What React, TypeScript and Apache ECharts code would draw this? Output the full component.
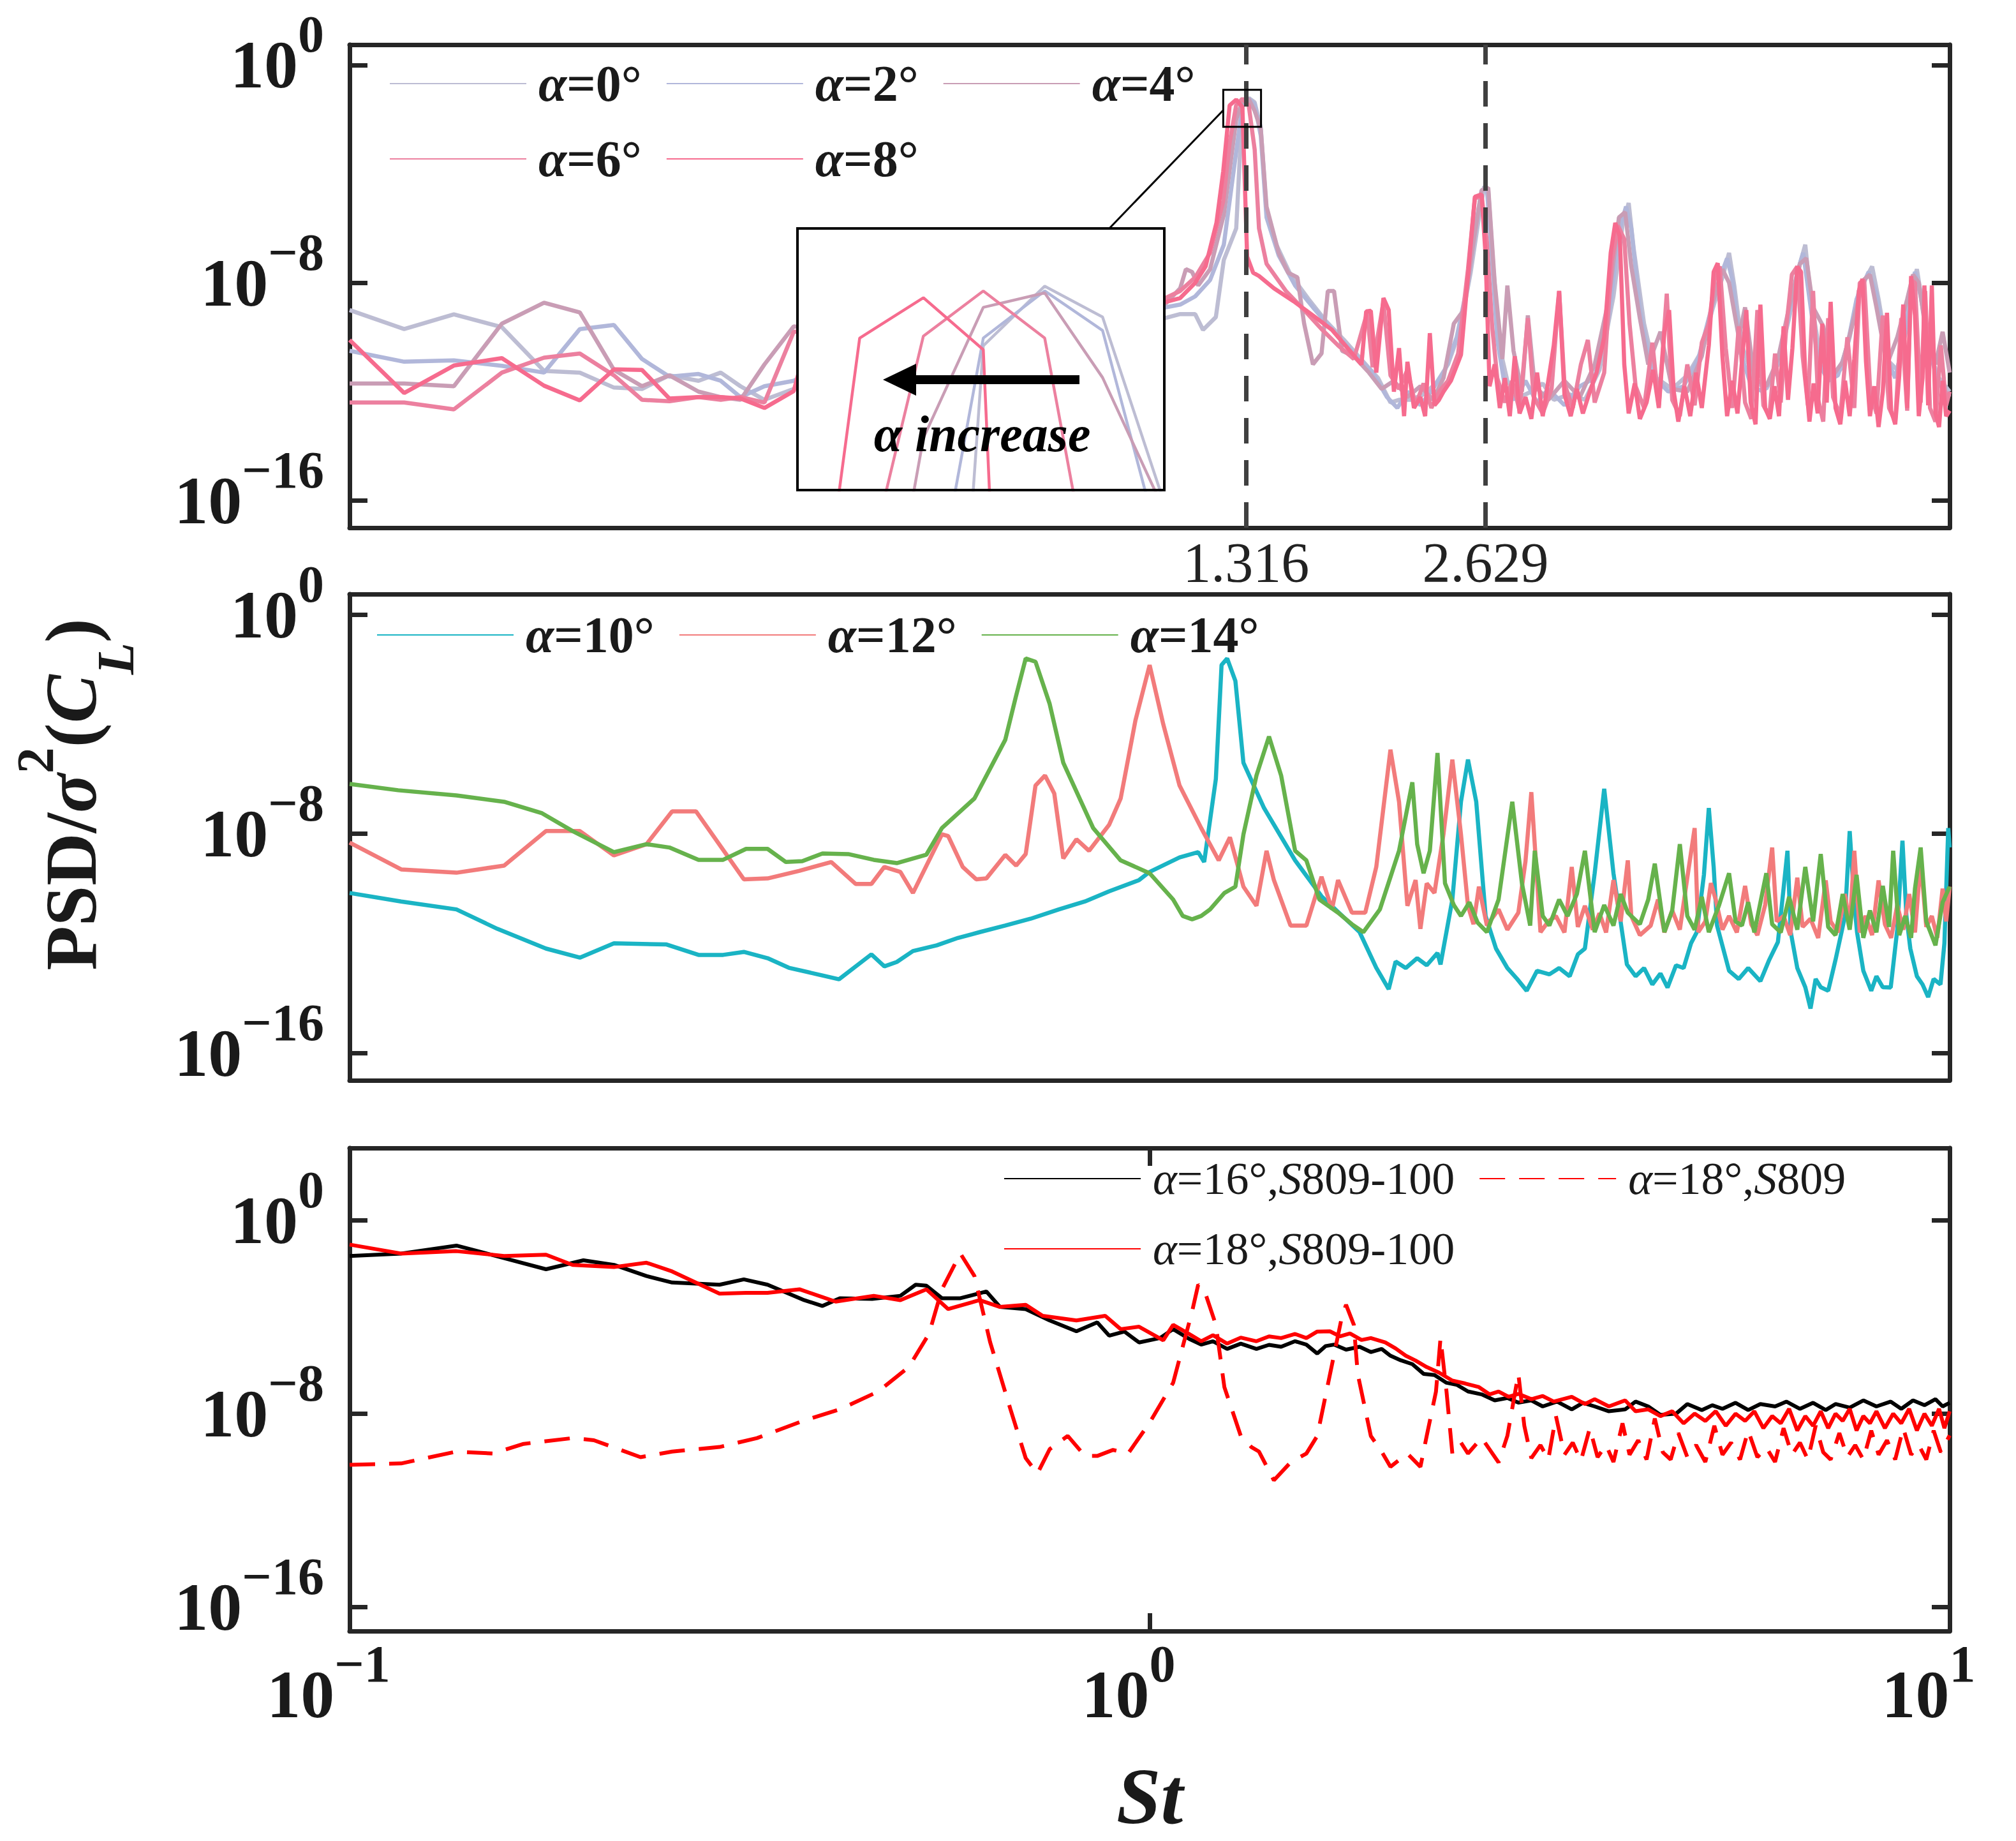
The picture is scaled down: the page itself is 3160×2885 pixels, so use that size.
import * as echarts from 'echarts';
import { useEffect, useRef } from 'react';

type Pt = [number, number]; // [St, log10(PSD / sigma^2(CL))]

const SERIF = '"Liberation Serif", "DejaVu Serif", serif';
const INK = '#1a1a1a';
const AXIS_COLOR = '#262626';

// ---------- panel 1 : alpha = 0..8 deg ----------
const P1_A0: Pt[] = [
  [0.1, -9.0], [0.117, -9.7], [0.135, -9.16], [0.155, -9.63], [0.175, -11.24], [0.194, -11.3], [0.214, -11.85],
  [0.232, -11.9], [0.251, -11.4], [0.273, -11.6], [0.291, -11.3], [0.308, -11.8], [0.33, -12.3], [0.359, -11.9],
  [0.45, -10.5], [0.6, -9.8], [0.8, -9.6], [0.95, -9.4],
  [1.048, -9.29], [1.092, -9.15], [1.14, -9.15], [1.166, -9.73], [1.21, -9.26], [1.238, -7.16], [1.283, -6.0],
  [1.306, -1.52], [1.33, -1.21], [1.353, -1.37], [1.377, -2.3], [1.4, -5.4], [1.44, -6.6], [1.5, -7.7], [1.58, -8.6],
  [1.66, -9.4], [1.75, -10.1], [1.85, -10.9], [1.93, -11.5], [2.0, -12.4], [2.05, -12.3], [2.12, -12.3], [2.2, -12.1],
  [2.28, -11.7], [2.36, -11.0], [2.44, -9.8], [2.52, -7.6], [2.58, -5.6], [2.62, -4.45], [2.65, -4.6], [2.69, -7.5],
  [2.74, -10.4], [2.8, -11.6], [2.9, -12.2], [3.0, -12.0], [3.1, -11.7], [3.2, -12.3], [3.35, -12.1], [3.5, -12.3],
  [3.65, -11.2], [3.8, -8.5], [3.9, -5.9], [3.97, -5.07], [4.03, -6.8], [4.15, -9.5], [4.3, -11.5], [4.5, -11.9],
  [4.7, -11.4], [4.9, -10.5], [5.05, -9.0], [5.2, -7.8], [5.3, -6.9], [5.38, -8.1], [5.5, -10.3], [5.7, -11.6],
  [5.9, -11.9], [6.1, -11.0], [6.3, -9.3], [6.5, -7.3], [6.6, -6.6], [6.7, -8.5], [6.9, -10.8], [7.1, -11.5],
  [7.3, -11.2], [7.5, -10.0], [7.7, -8.3], [8.0, -7.4], [8.15, -8.6], [8.4, -10.9], [8.6, -11.2], [8.8, -9.9],
  [9.0, -8.0], [9.1, -7.5], [9.25, -8.8], [9.5, -10.8], [9.7, -11.5], [10, -12.0],
];
const P1_A2: Pt[] = [
  [0.1, -10.5], [0.117, -10.9], [0.135, -10.85], [0.155, -11.05], [0.175, -11.3], [0.194, -9.7], [0.214, -9.55],
  [0.232, -10.8], [0.251, -11.45], [0.273, -11.35], [0.291, -11.6], [0.308, -12.2], [0.33, -11.8], [0.359, -11.6],
  [0.45, -10.2], [0.6, -9.9], [0.8, -9.7], [0.95, -9.3],
  [1.048, -8.9], [1.092, -8.8], [1.14, -8.5], [1.19, -7.9], [1.238, -6.6], [1.283, -3.18], [1.306, -1.48],
  [1.33, -1.235], [1.353, -1.44], [1.377, -2.6], [1.4, -5.6], [1.45, -7.0], [1.52, -8.1], [1.6, -8.9], [1.7, -9.8],
  [1.8, -10.6], [1.9, -11.3], [1.98, -12.2], [2.04, -12.6], [2.1, -12.0], [2.18, -12.5], [2.26, -11.9], [2.34, -11.2],
  [2.42, -10.0], [2.5, -8.0], [2.56, -5.8], [2.6, -4.6], [2.64, -4.55], [2.68, -7.2], [2.72, -10.1], [2.78, -11.8],
  [2.86, -12.3], [2.95, -11.6], [3.05, -12.4], [3.15, -11.9], [3.3, -12.5], [3.45, -11.8], [3.6, -11.5], [3.75, -9.2],
  [3.87, -6.0], [3.94, -5.2], [4.0, -6.0], [4.1, -9.0], [4.25, -11.4], [4.45, -12.0], [4.65, -11.8], [4.85, -10.8],
  [5.0, -9.3], [5.15, -7.9], [5.27, -7.1], [5.36, -8.0], [5.48, -10.6], [5.65, -11.8], [5.85, -12.0], [6.05, -11.3],
  [6.25, -9.6], [6.45, -7.6], [6.56, -6.9], [6.66, -8.3], [6.85, -10.9], [7.05, -11.6], [7.25, -11.4], [7.45, -10.3],
  [7.65, -8.6], [7.92, -7.6], [8.1, -8.4], [8.35, -10.8], [8.55, -11.5], [8.75, -10.2], [8.95, -8.3], [9.05, -7.6],
  [9.2, -8.5], [9.45, -10.5], [9.65, -11.6], [10, -12.2],
];
const P1_A4: Pt[] = [
  [0.1, -11.7], [0.117, -11.7], [0.135, -11.8], [0.155, -9.5], [0.175, -8.73], [0.194, -9.09], [0.214, -11.2],
  [0.232, -11.8], [0.251, -11.4], [0.273, -12.0], [0.291, -12.2], [0.308, -12.3], [0.33, -11.0], [0.359, -9.6],
  [0.45, -10.0], [0.6, -10.3], [0.8, -9.8], [0.95, -9.2],
  [1.048, -8.75], [1.092, -8.2], [1.11, -7.5], [1.13, -7.6], [1.15, -8.1], [1.19, -7.5], [1.238, -5.5], [1.283, -2.0],
  [1.306, -1.32], [1.33, -1.245], [1.353, -1.685], [1.377, -2.35], [1.4, -5.2], [1.45, -6.9], [1.49, -7.63],
  [1.53, -7.8], [1.56, -9.5], [1.6, -11.0], [1.64, -10.6], [1.67, -8.3], [1.7, -8.3], [1.74, -10.5], [1.8, -10.7],
  [1.88, -11.3], [1.95, -11.9], [2.02, -11.6], [2.1, -12.2], [2.18, -11.8], [2.26, -12.3], [2.33, -11.5], [2.4, -9.5],
  [2.47, -9.0], [2.54, -6.5], [2.6, -4.6], [2.65, -4.5], [2.7, -8.0], [2.76, -10.8], [2.8, -8.1], [2.85, -10.5],
  [2.92, -12.0], [2.97, -9.2], [3.03, -11.8], [3.15, -12.3], [3.3, -11.6], [3.45, -12.2], [3.6, -11.0], [3.75, -8.6],
  [3.86, -5.6], [3.93, -5.4], [4.0, -7.4], [4.1, -9.3], [4.2, -11.0], [4.35, -9.8], [4.5, -11.9], [4.7, -12.0],
  [4.9, -10.7], [5.05, -8.8], [5.2, -7.5], [5.3, -8.0], [5.45, -10.0], [5.55, -8.9], [5.7, -11.5], [5.9, -11.8],
  [6.1, -10.8], [6.3, -8.9], [6.5, -7.3], [6.62, -7.1], [6.75, -8.9], [6.95, -9.6], [7.15, -11.4], [7.35, -10.9],
  [7.55, -9.6], [7.8, -7.9], [7.95, -7.7], [8.1, -8.9], [8.35, -11.0], [8.6, -10.0], [8.85, -8.6], [9.0, -7.7],
  [9.15, -8.0], [9.35, -9.9], [9.6, -11.0], [9.8, -9.8], [10, -11.3],
];
const P1_A6: Pt[] = [
  [0.1, -12.4], [0.117, -12.4], [0.135, -12.65], [0.155, -11.3], [0.175, -10.75], [0.194, -10.6], [0.214, -11.4],
  [0.232, -12.3], [0.251, -12.35], [0.273, -12.2], [0.291, -12.3], [0.308, -12.2], [0.33, -12.4], [0.359, -9.8],
  [0.45, -9.6], [0.6, -10.0], [0.8, -9.8], [0.95, -9.0],
  [1.048, -8.55], [1.092, -8.3], [1.14, -7.8], [1.19, -6.9], [1.236, -5.0], [1.259, -2.85], [1.283, -1.47],
  [1.306, -1.235], [1.33, -1.48], [1.353, -3.1], [1.37, -6.0], [1.4, -7.3], [1.48, -8.3], [1.56, -9.0], [1.64, -9.7],
  [1.72, -10.3], [1.8, -10.8], [1.87, -9.1], [1.9, -11.1], [1.96, -8.7], [2.0, -11.4], [2.05, -11.9], [2.1, -11.2],
  [2.15, -12.5], [2.2, -11.7], [2.25, -12.6], [2.3, -12.0], [2.36, -11.6], [2.43, -10.6], [2.5, -7.5], [2.55, -4.9],
  [2.6, -4.8], [2.64, -6.5], [2.68, -9.6], [2.72, -11.5], [2.78, -12.4], [2.84, -11.6], [2.9, -12.7], [2.97, -9.3],
  [3.02, -12.2], [3.1, -12.8], [3.18, -11.9], [3.25, -8.3], [3.3, -11.7], [3.38, -12.6], [3.46, -11.0], [3.53, -10.1],
  [3.6, -12.4], [3.7, -11.3], [3.78, -7.2], [3.85, -5.9], [3.92, -6.4], [3.98, -9.5], [4.05, -11.8], [4.15, -12.6],
  [4.25, -10.2], [4.33, -12.5], [4.43, -8.4], [4.5, -12.3], [4.6, -12.9], [4.7, -11.0], [4.8, -12.5], [4.9, -10.2],
  [5.0, -9.5], [5.1, -7.6], [5.16, -7.4], [5.25, -10.4], [5.35, -12.6], [5.45, -9.6], [5.55, -12.4], [5.65, -13.0],
  [5.75, -9.0], [5.85, -12.5], [5.95, -12.9], [6.05, -10.6], [6.15, -12.4], [6.25, -9.6], [6.35, -7.7], [6.45, -7.4],
  [6.55, -10.7], [6.65, -12.5], [6.75, -8.3], [6.85, -12.3], [6.95, -13.1], [7.05, -9.3], [7.15, -12.2], [7.3, -12.9],
  [7.45, -10.0], [7.6, -12.6], [7.72, -8.0], [7.82, -7.9], [7.95, -11.8], [8.1, -12.8], [8.25, -9.2], [8.4, -12.6],
  [8.55, -13.1], [8.7, -9.3], [8.85, -12.7], [8.95, -7.9], [9.05, -8.0], [9.2, -12.4], [9.32, -8.3], [9.45, -12.6],
  [9.6, -13.1], [9.75, -10.3], [9.9, -12.5], [10, -12.0],
];
const P1_A8: Pt[] = [
  [0.1, -10.1], [0.117, -12.05], [0.135, -11.04], [0.155, -10.77], [0.175, -11.78], [0.194, -12.32], [0.214, -11.18],
  [0.232, -11.2], [0.251, -12.25], [0.273, -12.2], [0.291, -12.2], [0.308, -12.25], [0.33, -12.6], [0.359, -11.98],
  [0.38, -9.3], [0.45, -9.8], [0.6, -10.1], [0.8, -9.9], [0.95, -9.1],
  [1.048, -8.7], [1.092, -8.56], [1.14, -8.0], [1.175, -7.39], [1.212, -5.8], [1.236, -3.9], [1.259, -1.48],
  [1.283, -1.27], [1.306, -1.54], [1.324, -7.04], [1.347, -7.63], [1.37, -7.75], [1.43, -8.2], [1.514, -8.68],
  [1.6, -9.2], [1.69, -9.73], [1.78, -10.5], [1.84, -11.0], [1.865, -9.05], [1.89, -9.03], [1.92, -11.3], [1.96, -8.56],
  [1.99, -9.0], [2.02, -12.0], [2.05, -10.4], [2.08, -12.9], [2.1, -10.9], [2.14, -12.6], [2.18, -12.2], [2.21, -12.9],
  [2.24, -9.85], [2.27, -12.5], [2.3, -12.3], [2.33, -12.0], [2.38, -11.6], [2.45, -10.65], [2.51, -7.16],
  [2.55, -4.84], [2.6, -4.75], [2.63, -7.0], [2.66, -11.8], [2.7, -11.0], [2.74, -12.6], [2.78, -11.5], [2.82, -12.9],
  [2.86, -10.7], [2.9, -12.8], [2.95, -12.2], [3.0, -13.0], [3.05, -11.3], [3.1, -12.9], [3.15, -11.6], [3.2, -10.3],
  [3.25, -8.3], [3.3, -12.1], [3.36, -12.9], [3.42, -11.9], [3.48, -12.8], [3.55, -12.0], [3.62, -11.3], [3.7, -10.0],
  [3.77, -6.9], [3.82, -5.8], [3.87, -6.3], [3.92, -11.0], [3.97, -12.8], [4.04, -11.7], [4.1, -13.0], [4.18, -12.4],
  [4.26, -11.2], [4.33, -12.6], [4.4, -9.8], [4.46, -9.0], [4.52, -12.0], [4.58, -13.1], [4.66, -11.8], [4.74, -12.9],
  [4.82, -11.3], [4.9, -12.6], [5.0, -10.3], [5.07, -7.6], [5.13, -7.28], [5.2, -10.7], [5.27, -12.9], [5.35, -11.6],
  [5.43, -12.8], [5.5, -10.9], [5.57, -9.0], [5.64, -12.4], [5.72, -13.2], [5.8, -8.8], [5.88, -12.6], [5.96, -13.0],
  [6.04, -11.8], [6.12, -12.9], [6.2, -9.6], [6.28, -12.3], [6.36, -10.4], [6.45, -7.4], [6.52, -7.6], [6.6, -11.4],
  [6.68, -13.1], [6.76, -11.7], [6.84, -12.8], [6.93, -9.5], [7.02, -12.4], [7.1, -8.7], [7.2, -12.6], [7.3, -13.2],
  [7.4, -11.6], [7.5, -12.9], [7.6, -10.8], [7.7, -8.3], [7.78, -7.86], [7.86, -10.9], [7.95, -12.9], [8.05, -11.8],
  [8.15, -13.3], [8.25, -12.0], [8.35, -9.1], [8.45, -12.7], [8.55, -13.2], [8.65, -11.4], [8.75, -8.8], [8.85, -12.6],
  [8.95, -7.75], [9.05, -9.2], [9.15, -12.9], [9.25, -11.5], [9.3, -8.1], [9.4, -12.5], [9.5, -8.1], [9.6, -12.8],
  [9.7, -13.3], [9.8, -11.6], [9.9, -12.9], [10, -12.7],
];

// ---------- panel 2 : alpha = 10, 12, 14 deg ----------
const P2_A10: Pt[] = [
  [0.1, -10.16], [0.116, -10.47], [0.136, -10.76], [0.153, -11.47], [0.176, -12.19], [0.194, -12.52], [0.214, -12.0],
  [0.249, -12.04], [0.273, -12.42], [0.293, -12.42], [0.311, -12.31], [0.333, -12.54], [0.354, -12.89], [0.409, -13.31],
  [0.449, -12.4], [0.466, -12.84], [0.483, -12.68], [0.506, -12.28], [0.542, -12.07], [0.576, -11.8], [0.613, -11.59],
  [0.66, -11.35], [0.71, -11.1], [0.77, -10.76], [0.83, -10.47], [0.89, -10.1], [0.97, -9.69], [1.0, -9.39],
  [1.09, -8.86], [1.15, -8.67], [1.17, -9.03], [1.21, -6.0], [1.23, -1.84], [1.25, -1.6], [1.28, -2.42], [1.31, -5.41],
  [1.39, -7.06], [1.52, -8.97], [1.64, -10.28], [1.83, -11.59], [1.92, -12.89], [1.99, -13.67], [2.03, -12.66],
  [2.09, -12.9], [2.16, -12.54], [2.22, -12.8], [2.29, -12.35], [2.31, -12.77], [2.39, -10.4], [2.45, -6.83],
  [2.5, -5.29], [2.56, -6.83], [2.63, -11.0], [2.71, -12.19], [2.8, -12.9], [2.88, -13.3], [2.96, -13.73], [3.05, -13.0],
  [3.16, -13.13], [3.25, -12.9], [3.35, -13.2], [3.43, -12.4], [3.5, -12.19], [3.6, -9.44], [3.7, -6.36], [3.8, -9.44],
  [3.95, -12.77], [4.05, -13.2], [4.15, -12.9], [4.25, -13.5], [4.35, -13.1], [4.44, -13.61], [4.55, -12.8],
  [4.65, -12.9], [4.75, -12.0], [4.83, -11.59], [4.93, -9.5], [5.0, -7.06], [5.07, -9.2], [5.12, -11.35], [5.3, -13.0],
  [5.45, -13.3], [5.6, -12.9], [5.8, -13.38], [5.95, -12.6], [6.1, -11.95], [6.2, -10.0], [6.27, -8.62], [6.33, -11.59],
  [6.45, -12.9], [6.6, -13.6], [6.7, -14.38], [6.8, -13.3], [6.9, -13.6], [7.05, -13.73], [7.2, -12.6], [7.4, -11.0],
  [7.5, -7.9], [7.6, -10.5], [7.66, -11.59], [7.8, -13.0], [7.98, -13.73], [8.1, -13.2], [8.25, -13.6], [8.44, -13.61],
  [8.6, -11.5], [8.73, -8.25], [8.83, -11.0], [8.93, -12.19], [9.1, -13.2], [9.25, -13.5], [9.4, -13.96], [9.55, -13.3],
  [9.74, -13.5], [9.85, -12.0], [9.96, -7.79], [10, -8.5],
];
const P2_A12: Pt[] = [
  [0.1, -8.32], [0.116, -9.3], [0.136, -9.42], [0.156, -9.16], [0.176, -7.9], [0.194, -7.9], [0.214, -8.79],
  [0.235, -8.38], [0.253, -7.18], [0.271, -7.18], [0.311, -9.66], [0.333, -9.63], [0.365, -9.35], [0.4, -9.03],
  [0.429, -9.83], [0.449, -9.83], [0.466, -9.21], [0.488, -9.39], [0.506, -10.16], [0.55, -8.02], [0.56, -8.08],
  [0.584, -9.21], [0.607, -9.66], [0.625, -9.63], [0.66, -8.77], [0.681, -9.16], [0.7, -8.74], [0.72, -6.24],
  [0.74, -5.87], [0.76, -6.53], [0.78, -8.9], [0.81, -8.2], [0.84, -8.62], [0.89, -7.67], [0.92, -6.71], [0.96, -3.86],
  [1.0, -1.84], [1.04, -4.0], [1.09, -6.24], [1.16, -7.79], [1.22, -8.97], [1.26, -8.13], [1.29, -9.21], [1.31, -9.93],
  [1.36, -10.63], [1.4, -8.62], [1.43, -9.69], [1.5, -11.35], [1.57, -11.35], [1.64, -9.57], [1.69, -10.76],
  [1.72, -9.69], [1.79, -10.88], [1.86, -10.88], [1.92, -9.21], [2.0, -4.93], [2.05, -6.83], [2.1, -10.63],
  [2.15, -9.69], [2.18, -11.47], [2.22, -9.81], [2.27, -10.16], [2.33, -8.0], [2.39, -5.29], [2.45, -8.02],
  [2.5, -10.63], [2.54, -11.3], [2.58, -9.93], [2.64, -11.35], [2.73, -10.76], [2.8, -11.5], [2.89, -10.88],
  [2.95, -9.0], [3.0, -6.48], [3.08, -11.59], [3.15, -11.2], [3.22, -11.0], [3.3, -11.6], [3.37, -9.21], [3.43, -11.4],
  [3.5, -10.63], [3.58, -11.5], [3.65, -10.9], [3.72, -11.6], [3.8, -9.69], [3.88, -11.2], [3.96, -8.97], [4.0, -11.0],
  [4.1, -11.7], [4.23, -11.35], [4.32, -10.4], [4.4, -11.6], [4.5, -10.8], [4.6, -11.5], [4.7, -9.6], [4.8, -7.79],
  [4.85, -11.59], [4.95, -11.2], [5.03, -9.8], [5.1, -10.4], [5.2, -11.5], [5.3, -11.0], [5.42, -11.6], [5.55, -9.9],
  [5.65, -11.3], [5.75, -11.7], [5.88, -10.6], [6.0, -8.5], [6.08, -11.2], [6.2, -11.0], [6.32, -11.7], [6.45, -9.6],
  [6.55, -11.4], [6.7, -11.1], [6.85, -11.8], [7.0, -9.7], [7.1, -11.2], [7.25, -11.6], [7.4, -10.2], [7.5, -11.4],
  [7.6, -8.62], [7.72, -11.6], [7.85, -11.0], [8.0, -11.7], [8.15, -9.7], [8.3, -11.3], [8.45, -11.8], [8.6, -10.6],
  [8.75, -11.5], [8.9, -10.2], [9.05, -11.6], [9.2, -8.97], [9.35, -11.4], [9.5, -11.0], [9.65, -11.8], [9.8, -10.0],
  [9.9, -11.2], [10, -9.93],
];
const P2_A14: Pt[] = [
  [0.1, -6.18], [0.115, -6.41], [0.136, -6.6], [0.156, -6.83], [0.174, -7.25], [0.19, -7.9], [0.214, -8.67],
  [0.235, -8.38], [0.251, -8.5], [0.273, -8.95], [0.293, -8.95], [0.313, -8.55], [0.333, -8.55], [0.351, -9.03],
  [0.368, -9.0], [0.39, -8.72], [0.42, -8.74], [0.452, -8.95], [0.483, -9.07], [0.526, -8.76], [0.55, -7.79],
  [0.604, -6.71], [0.66, -4.57], [0.68, -3.03], [0.7, -1.6], [0.72, -1.72], [0.75, -3.26], [0.78, -5.41], [0.85, -7.79],
  [0.92, -8.97], [1.0, -9.44], [1.07, -10.4], [1.1, -11.0], [1.13, -11.12], [1.16, -11.0], [1.19, -10.76],
  [1.24, -10.16], [1.28, -9.93], [1.31, -8.02], [1.36, -5.87], [1.41, -4.45], [1.46, -5.87], [1.52, -8.62],
  [1.57, -8.97], [1.63, -10.4], [1.72, -10.88], [1.79, -11.3], [1.85, -11.59], [1.94, -10.76], [2.05, -8.62],
  [2.13, -6.12], [2.16, -8.38], [2.2, -9.44], [2.24, -8.62], [2.29, -5.05], [2.34, -9.81], [2.4, -10.6], [2.45, -11.0],
  [2.51, -10.5], [2.57, -11.24], [2.64, -11.59], [2.73, -10.4], [2.84, -6.83], [2.92, -9.81], [2.99, -11.35],
  [3.03, -8.62], [3.1, -11.0], [3.16, -11.35], [3.25, -10.4], [3.33, -11.0], [3.42, -10.2], [3.5, -8.62], [3.6, -11.59],
  [3.7, -10.6], [3.8, -11.35], [3.88, -10.2], [3.96, -10.88], [4.1, -11.3], [4.2, -10.4], [4.28, -9.09], [4.4, -11.59],
  [4.5, -10.8], [4.6, -8.38], [4.7, -11.0], [4.8, -11.5], [4.9, -10.3], [5.0, -11.59], [5.15, -10.6], [5.3, -9.44],
  [5.4, -11.2], [5.5, -11.35], [5.6, -10.5], [5.7, -11.6], [5.9, -9.44], [6.0, -11.3], [6.15, -11.6], [6.3, -10.3],
  [6.45, -11.5], [6.6, -9.21], [6.75, -11.2], [6.9, -8.74], [7.05, -11.4], [7.2, -11.7], [7.35, -10.2], [7.5, -11.5],
  [7.65, -9.5], [7.8, -11.8], [7.95, -10.8], [8.1, -11.6], [8.25, -9.9], [8.4, -11.4], [8.5, -8.62], [8.65, -11.7],
  [8.8, -11.0], [8.95, -11.8], [9.05, -10.0], [9.2, -8.5], [9.35, -11.2], [9.6, -12.07], [9.8, -10.5], [10, -9.93],
];

// ---------- panel 3 : alpha = 16, 18 deg ----------
const P3_A16_100: Pt[] = [
  [0.1, -1.47], [0.116, -1.37], [0.136, -1.04], [0.156, -1.56], [0.176, -2.02], [0.196, -1.65], [0.214, -1.84],
  [0.235, -2.3], [0.253, -2.57], [0.29, -2.66], [0.311, -2.44], [0.333, -2.66], [0.37, -3.3], [0.39, -3.54],
  [0.41, -3.22], [0.45, -3.25], [0.488, -3.12], [0.51, -2.66], [0.526, -2.7], [0.55, -3.22], [0.58, -3.22],
  [0.625, -2.94], [0.65, -3.58], [0.7, -3.67], [0.75, -4.14], [0.81, -4.59], [0.86, -4.22], [0.89, -4.77], [0.93, -4.6],
  [0.97, -5.05], [1.03, -4.87], [1.07, -4.5], [1.12, -4.9], [1.16, -5.14], [1.2, -5.0], [1.25, -5.32], [1.3, -5.1],
  [1.36, -5.32], [1.41, -5.15], [1.46, -5.23], [1.52, -5.0], [1.57, -5.14], [1.62, -5.51], [1.66, -5.2], [1.7, -5.14],
  [1.76, -5.35], [1.83, -5.23], [1.89, -5.45], [1.95, -5.32], [2.0, -5.6], [2.06, -5.79], [2.13, -5.95], [2.2, -6.35],
  [2.27, -6.4], [2.35, -6.72], [2.42, -6.8], [2.5, -7.08], [2.6, -7.2], [2.7, -7.45], [2.8, -7.35], [2.89, -7.54],
  [3.0, -7.45], [3.1, -7.7], [3.23, -7.5], [3.37, -7.82], [3.48, -7.55], [3.6, -7.7], [3.75, -7.9], [3.93, -7.82],
  [4.05, -7.5], [4.2, -7.7], [4.35, -8.05], [4.55, -8.0], [4.7, -7.6], [4.9, -7.85], [5.05, -7.65], [5.2, -7.8],
  [5.4, -7.55], [5.6, -7.85], [5.8, -7.6], [6.05, -7.7], [6.25, -7.5], [6.5, -7.8], [6.75, -7.55], [7.0, -7.85],
  [7.2, -7.6], [7.5, -7.75], [7.8, -7.45], [8.1, -7.7], [8.44, -7.5], [8.7, -7.8], [9.0, -7.45], [9.3, -7.65],
  [9.6, -7.4], [9.8, -7.7], [10, -7.55],
];
const P3_A18_S809: Pt[] = [
  [0.1, -10.12], [0.116, -10.06], [0.136, -9.57], [0.151, -9.65], [0.165, -9.25], [0.19, -9.01], [0.202, -9.1],
  [0.231, -9.8], [0.253, -9.57], [0.29, -9.38], [0.323, -9.01], [0.37, -8.28], [0.41, -7.82], [0.458, -7.08],
  [0.5, -6.07], [0.53, -4.69], [0.55, -2.85], [0.58, -1.37], [0.604, -2.3], [0.632, -5.05], [0.67, -7.82], [0.7, -9.84],
  [0.724, -10.48], [0.75, -9.47], [0.79, -8.92], [0.83, -9.75], [0.86, -9.75], [0.9, -9.5], [0.94, -9.65], [1.0, -8.37],
  [1.07, -6.72], [1.13, -3.77], [1.15, -2.66], [1.17, -2.87], [1.21, -4.32], [1.24, -6.9], [1.3, -8.92], [1.34, -9.38],
  [1.37, -9.57], [1.43, -10.76], [1.5, -10.02], [1.57, -9.65], [1.62, -8.92], [1.69, -5.98], [1.74, -3.95],
  [1.76, -3.49], [1.8, -4.32], [1.82, -6.35], [1.89, -8.92], [1.95, -9.57], [2.0, -10.2], [2.1, -9.65], [2.18, -10.2],
  [2.22, -8.92], [2.28, -7.08], [2.31, -4.87], [2.35, -7.08], [2.39, -9.65], [2.45, -9.2], [2.5, -9.65], [2.6, -9.0],
  [2.73, -10.02], [2.8, -8.92], [2.89, -6.35], [2.94, -8.5], [3.0, -9.84], [3.08, -9.3], [3.15, -9.9], [3.22, -8.1],
  [3.3, -9.7], [3.38, -9.2], [3.46, -9.95], [3.55, -8.6], [3.63, -9.8], [3.72, -9.3], [3.8, -10.0], [3.9, -8.4],
  [3.98, -9.7], [4.08, -9.1], [4.18, -9.9], [4.28, -8.2], [4.38, -9.6], [4.48, -9.9], [4.58, -8.8], [4.7, -9.8],
  [4.82, -9.3], [4.95, -10.0], [5.08, -8.5], [5.2, -9.7], [5.33, -9.2], [5.47, -9.9], [5.6, -8.7], [5.75, -9.8],
  [5.9, -9.4], [6.05, -10.0], [6.2, -8.6], [6.35, -9.7], [6.5, -9.2], [6.65, -9.9], [6.8, -8.5], [6.95, -9.6],
  [7.1, -9.9], [7.28, -8.8], [7.45, -9.8], [7.62, -9.3], [7.8, -9.9], [7.98, -8.7], [8.15, -9.7], [8.35, -9.1],
  [8.55, -9.9], [8.75, -8.6], [8.95, -9.7], [9.15, -9.3], [9.35, -9.9], [9.55, -8.7], [9.75, -9.6], [10, -8.9],
];
const P3_A18_100: Pt[] = [
  [0.1, -1.0], [0.116, -1.37], [0.136, -1.27], [0.156, -1.47], [0.176, -1.42], [0.19, -1.84], [0.214, -1.93],
  [0.235, -1.75], [0.253, -2.11], [0.29, -3.03], [0.313, -3.0], [0.333, -3.0], [0.365, -2.85], [0.405, -3.36],
  [0.452, -3.12], [0.488, -3.3], [0.526, -2.85], [0.56, -3.67], [0.613, -3.3], [0.65, -3.58], [0.7, -3.49],
  [0.735, -3.95], [0.81, -4.14], [0.88, -3.95], [0.92, -4.5], [0.97, -4.4], [1.04, -4.96], [1.07, -4.32], [1.12, -4.7],
  [1.16, -5.0], [1.2, -4.75], [1.25, -5.1], [1.3, -4.85], [1.36, -5.0], [1.41, -4.8], [1.46, -4.87], [1.52, -4.7],
  [1.57, -4.87], [1.62, -4.6], [1.68, -4.59], [1.73, -4.8], [1.78, -4.68], [1.84, -4.95], [1.89, -4.87], [1.97, -5.05],
  [2.03, -5.3], [2.09, -5.6], [2.15, -5.8], [2.22, -6.07], [2.3, -6.3], [2.39, -6.63], [2.48, -6.75], [2.58, -6.9],
  [2.66, -7.2], [2.73, -7.08], [2.81, -7.3], [2.89, -7.18], [3.0, -7.4], [3.1, -7.27], [3.2, -7.5], [3.37, -7.3],
  [3.5, -7.6], [3.6, -7.4], [3.75, -7.7], [3.93, -7.45], [4.05, -7.9], [4.2, -7.82], [4.35, -8.1], [4.5, -7.9],
  [4.65, -8.4], [4.8, -8.0], [4.95, -8.3], [5.1, -7.9], [5.25, -8.5], [5.4, -8.0], [5.55, -8.3], [5.7, -7.9],
  [5.85, -8.6], [6.0, -8.1], [6.15, -8.4], [6.3, -7.8], [6.45, -8.7], [6.6, -8.1], [6.75, -8.5], [6.9, -7.9],
  [7.05, -8.6], [7.2, -8.0], [7.35, -8.3], [7.5, -7.8], [7.65, -8.7], [7.8, -8.1], [7.95, -8.4], [8.1, -7.9],
  [8.3, -8.6], [8.5, -8.0], [8.7, -8.4], [8.9, -7.8], [9.1, -8.7], [9.3, -8.0], [9.5, -8.5], [9.7, -7.8], [9.85, -8.6],
  [10, -7.9],
];

const P1_NAMES = ['α=0°', 'α=2°', 'α=4°', 'α=6°', 'α=8°'];
const P1_COLORS = ['#bdbdd3', '#b1b7da', '#c99db5', '#ec809f', '#f66b8e'];
const P1_DATA = [P1_A0, P1_A2, P1_A4, P1_A6, P1_A8];
const P2_NAMES = ['α=10°', 'α=12°', 'α=14°'];
const P2_COLORS = ['#1ab4c4', '#f27b7b', '#66b24c'];
const P2_DATA = [P2_A10, P2_A12, P2_A14];
const P3_NAMES = ['α=16°,S809-100', 'α=18°,S809', 'α=18°,S809-100'];
const P3_COLORS = ['#000000', '#ff0000', '#ff0000'];
const P3_DATA = [P3_A16_100, P3_A18_S809, P3_A18_100];

const REF_ST = [1.316, 2.629];
const REF_LABELS = ['1.316', '2.629'];
const X_RANGE = [0.1, 10];
const Y_MIN = 1e-17;
const Y_MAX = [10 ** 0.75, 10 ** 0.75, 1e3];
const INSET_X = [1.236, 1.378];
const INSET_Y = [10 ** -2.27, 10 ** -0.91];

// layout (px)
const W = 3160;
const H = 2885;
const GRIDS = [
  { left: 548, top: 70, width: 2508, height: 757 },
  { left: 548, top: 931, width: 2508, height: 762 },
  { left: 548, top: 1799, width: 2508, height: 757 },
];
const INSET = { left: 1250, top: 358, width: 575, height: 410 };

const toPts = (arr: Pt[]) => arr.map(([x, e]) => [x, Math.pow(10, e)]);

const MINUS = '\u2212';
function powLabel(v: number, step: number) {
  const e = Math.log10(v);
  if (Math.abs(e / step - Math.round(e / step)) > 1e-6) return '';
  const n = Math.round(e);
  return `{b|10}{s|${n < 0 ? MINUS + -n : n}}`;
}
const POW_RICH = {
  b: { fontFamily: SERIF, fontWeight: 'bold', fontSize: 106, lineHeight: 106, verticalAlign: 'bottom', color: INK },
  s: {
    fontFamily: SERIF, fontWeight: 'bold', fontSize: 82, lineHeight: 82, verticalAlign: 'bottom',
    padding: [0, 0, 60, 0], color: INK,
  },
};

const axisLine = { show: true, onZero: false, lineStyle: { color: AXIS_COLOR, width: 7 } };
const axisTick = { show: true, inside: true, length: 28, lineStyle: { color: AXIS_COLOR, width: 7 } };

function xAxesFor(gi: number, bottomPanel: boolean) {
  const base = {
    gridIndex: gi, type: 'log', logBase: 10, min: X_RANGE[0], max: X_RANGE[1],
    axisLine, axisTick: bottomPanel ? axisTick : { show: false },
    splitLine: { show: false }, minorTick: { show: false },
  };
  const bottom: any = { ...base, position: 'bottom', axisLabel: { show: false } };
  if (bottomPanel) {
    bottom.axisLabel = {
      show: true, margin: 46, formatter: (v: number) => powLabel(v, 1), rich: POW_RICH, padding: [0, 66, 0, 0],
    };
    bottom.name = 'St';
    bottom.nameLocation = 'middle';
    bottom.nameGap = 196;
    bottom.nameTextStyle = { fontFamily: SERIF, fontStyle: 'italic', fontWeight: 'bold', fontSize: 125, color: INK };
  }
  return [bottom, { ...base, position: 'top', axisLabel: { show: false } }];
}

function yAxesFor(gi: number) {
  const base = {
    gridIndex: gi, type: 'log', logBase: 1e8, min: Y_MIN, max: Y_MAX[gi],
    axisLine, axisTick, splitLine: { show: false }, minorTick: { show: false },
  };
  return [
    {
      ...base, position: 'left',
      axisLabel: { show: true, margin: 40, formatter: (v: number) => powLabel(v, 8), rich: POW_RICH },
    },
    { ...base, position: 'right', axisLabel: { show: false } },
  ];
}

function legendText(name: string) {
  return name
    .split(/(α|S)/)
    .filter(Boolean)
    .map((s) => (s === 'α' || s === 'S' ? `{i|${s}}` : `{t|${s}}`))
    .join('');
}
function legendFor(names: string[], left: number, top: number, width: number, size: number, weight: string) {
  const st = { fontFamily: SERIF, fontSize: size, fontWeight: weight, color: INK };
  return {
    left, top, width, orient: 'horizontal', itemWidth: 214, itemHeight: 24, itemGap: 38,
    selectedMode: false, data: names, formatter: legendText,
    itemStyle: { opacity: 0 },
    textStyle: { ...st, padding: [0, 0, 0, 14], rich: { t: st, i: { ...st, fontStyle: 'italic' } } },
  };
}

function buildOption() {
  const series: any[] = [];
  const add = (names: string[], data: Pt[][], colors: string[], axis: number, width: number) => {
    names.forEach((name, i) => {
      series.push({
        name, type: 'line', data: toPts(data[i]), xAxisIndex: axis, yAxisIndex: axis,
        symbol: 'none', showSymbol: false, clip: true, silent: true,
        lineStyle: { color: colors[i], width }, itemStyle: { color: colors[i] },
      });
    });
  };
  add(P1_NAMES, P1_DATA, P1_COLORS, 0, 6.5);
  add(P2_NAMES, P2_DATA, P2_COLORS, 2, 6.5);
  add(P3_NAMES, P3_DATA, P3_COLORS, 4, 6);
  // dashed S809 curve
  series[series.length - 2].lineStyle.type = [40, 22];

  // reference Strouhal numbers on the top panel
  series[P1_NAMES.length - 1].markLine = {
    silent: true, symbol: ['none', 'none'], animation: false,
    lineStyle: { type: [40, 26], width: 7, color: '#404040' },
    label: {
      show: true, position: 'start', distance: 10, formatter: (p: any) => REF_LABELS[p.dataIndex],
      fontFamily: SERIF, fontSize: 88, color: '#222',
    },
    emphasis: { disabled: true },
    data: REF_ST.map((v) => ({ xAxis: v })),
  };

  // zoomed inset of the first peak
  P1_NAMES.forEach((name, i) => {
    series.push({
      name, type: 'line', data: toPts(P1_DATA[i]), xAxisIndex: 6, yAxisIndex: 6, z: 12,
      symbol: 'none', showSymbol: false, clip: true, silent: true,
      lineStyle: { color: P1_COLORS[i], width: 4.5 },
    });
  });
  series[series.length - 1].markLine = {
    silent: true, symbol: ['none', 'none'], animation: false,
    lineStyle: { type: [12, 10], width: 2.5, color: '#333' }, label: { show: false },
    emphasis: { disabled: true },
    data: [{ xAxis: REF_ST[0] }],
  };

  return {
    animation: false,
    backgroundColor: '#ffffff',
    grid: [...GRIDS, INSET].map((g) => ({ ...g, containLabel: false, show: false })),
    xAxis: [
      ...xAxesFor(0, false), ...xAxesFor(1, false), ...xAxesFor(2, true),
      { gridIndex: 3, type: 'log', logBase: 10, min: INSET_X[0], max: INSET_X[1], show: false },
    ],
    yAxis: [
      ...yAxesFor(0), ...yAxesFor(1), ...yAxesFor(2),
      { gridIndex: 3, type: 'log', logBase: 10, min: INSET_Y[0], max: INSET_Y[1], show: false },
    ],
    legend: [
      legendFor(P1_NAMES, 605, 86, 1450, 80, 'bold'),
      legendFor(P2_NAMES, 585, 950, 1700, 80, 'bold'),
      legendFor(P3_NAMES, 1568, 1806, 1500, 72, 'normal'),
    ],
    series,
  };
}

export default function App() {
  const elRef = useRef<HTMLDivElement | null>(null);

  useEffect(() => {
    if (!elRef.current) return;
    document.body.style.margin = '0';
    const chart = echarts.init(elRef.current, undefined, { renderer: 'svg' });
    chart.setOption(buildOption() as any);

    // marker box around the peak, in data coordinates of the top panel
    const a = chart.convertToPixel({ xAxisIndex: 0, yAxisIndex: 0 }, [INSET_X[0], INSET_Y[1]]) as number[];
    const b = chart.convertToPixel({ xAxisIndex: 0, yAxisIndex: 0 }, [INSET_X[1], INSET_Y[0]]) as number[];
    const cx = INSET.left + INSET.width / 2;
    const arrowY = INSET.top + 237;
    const titleRich = (size: number, extra: any) => ({
      fontFamily: SERIF, fontWeight: 'bold', fontSize: size, lineHeight: size, verticalAlign: 'bottom', fill: INK, ...extra,
    });

    chart.setOption({
      graphic: [
        {
          type: 'rect', z: 10, silent: true,
          shape: { x: INSET.left, y: INSET.top, width: INSET.width, height: INSET.height },
          style: { fill: '#ffffff', stroke: 'none' },
        },
        {
          type: 'rect', z: 14, silent: true,
          shape: { x: INSET.left, y: INSET.top, width: INSET.width, height: INSET.height },
          style: { fill: 'none', stroke: '#000', lineWidth: 4 },
        },
        {
          type: 'rect', z: 14, silent: true,
          shape: { x: a[0], y: a[1], width: b[0] - a[0], height: b[1] - a[1] },
          style: { fill: 'none', stroke: '#000', lineWidth: 3 },
        },
        {
          type: 'line', z: 14, silent: true,
          shape: { x1: a[0], y1: a[1] + (b[1] - a[1]) * 0.55, x2: INSET.left + INSET.width * 0.85, y2: INSET.top },
          style: { stroke: '#000', lineWidth: 3 },
        },
        {
          type: 'rect', z: 15, silent: true,
          shape: { x: INSET.left + 180, y: arrowY - 7, width: 262, height: 14 },
          style: { fill: '#000' },
        },
        {
          type: 'polygon', z: 15, silent: true,
          shape: { points: [[INSET.left + 134, arrowY], [INSET.left + 186, arrowY - 25], [INSET.left + 186, arrowY + 25]] },
          style: { fill: '#000' },
        },
        {
          type: 'text', z: 15, silent: true, x: cx + 2, y: INSET.top + 322,
          style: {
            text: 'α increase', fontFamily: SERIF, fontStyle: 'italic', fontWeight: 'bold', fontSize: 80,
            fill: '#000', align: 'center', verticalAlign: 'middle',
          },
        },
        {
          type: 'text', z: 15, silent: true, x: 165, y: 1245, rotation: Math.PI / 2,
          style: {
            text: '{n|PSD/}{i|σ}{sup|2}{n|(}{i|C}{sub|L}{n|)}',
            align: 'center', verticalAlign: 'middle', fill: INK,
            rich: {
              n: titleRich(114, { padding: [0, 0, 54, 0] }),
              i: titleRich(114, { fontStyle: 'italic', padding: [0, 0, 54, 0] }),
              sup: titleRich(82, { padding: [0, 0, 126, 0] }),
              sub: titleRich(82, { fontStyle: 'italic' }),
            },
          },
        },
      ],
    });

    return () => {
      chart.dispose();
    };
  }, []);

  return <div ref={elRef} style={{ width: W, height: H, background: '#fff' }} />;
}
